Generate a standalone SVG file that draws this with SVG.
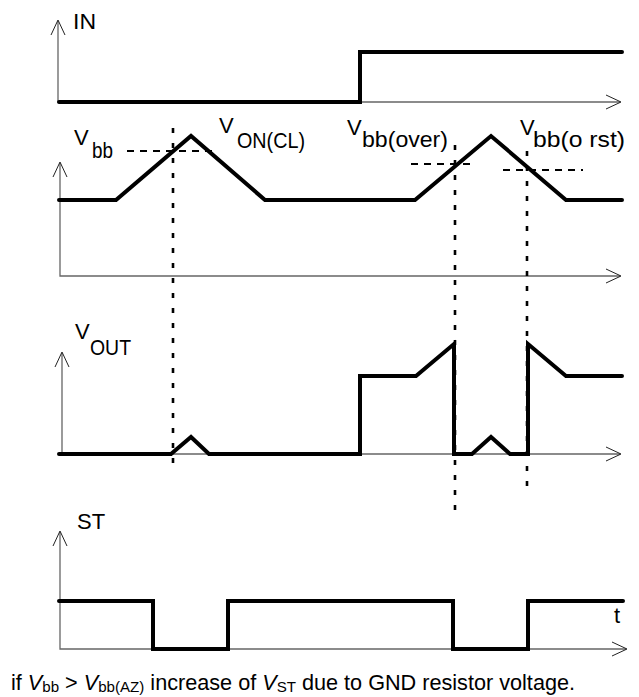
<svg xmlns="http://www.w3.org/2000/svg" width="639" height="697" viewBox="0 0 639 697">
<style>
.ax{fill:none;stroke:#666;stroke-width:1.3}
.ah{fill:none;stroke:#222;stroke-width:1}
.sig{fill:none;stroke:#000;stroke-width:4;stroke-linejoin:miter;stroke-linecap:round}
.dot{fill:none;stroke:#000;stroke-width:2.6;stroke-dasharray:5 10}
.dash{fill:none;stroke:#000;stroke-width:2;stroke-dasharray:7 6}
text{font-family:"Liberation Sans",Arial,sans-serif;fill:#000}
.lb{font-size:22px}
.cap{font-size:21.5px}
.sub{font-size:15px}
</style>
<rect width="639" height="697" fill="#fff"/>
<g id="axes">
<path class="ax" d="M58,21 V102 H620"/>
<path class="ah" d="M51,35 L58,20 L65,35 M606,95 L621,102 L606,109"/>
<path class="ax" d="M60,163 V276 H620"/>
<path class="ah" d="M53,177 L60,162 L67,177 M606,269 L621,276 L606,283"/>
<path class="ax" d="M62,353 V454 H620"/>
<path class="ah" d="M55,367 L62,352 L69,367 M606,447 L621,454 L606,461"/>
<path class="ax" d="M60,532 V649 H626"/>
<path class="ah" d="M53,546 L60,531 L67,546 M612,642 L627,649 L612,656"/>
</g>
<g id="connectors">
<path class="dot" d="M173,128 V469"/>
<path class="dot" d="M455,145 V515"/>
<path class="dot" d="M527,151 V495"/>
<path class="dash" d="M127,151 H218"/>
<path class="dash" d="M411,164 H476"/>
<path class="dash" d="M503,170 H583"/>
</g>
<g id="IN">
<path class="sig" d="M59,102 H360 V52 H622"/>
<text class="lb" x="73" y="29" textLength="23" lengthAdjust="spacingAndGlyphs">IN</text>
</g>
<g id="Vbb">
<path class="sig" d="M59,200 H116 L191,136 L265,200 H415 L491,136 L566,200 H622"/>
<text class="lb" x="74" y="145">V<tspan x="92" y="158" textLength="21" lengthAdjust="spacingAndGlyphs">bb</tspan></text>
<text class="lb" x="219" y="133">V<tspan x="237" y="148" textLength="68" lengthAdjust="spacingAndGlyphs">ON(CL)</tspan></text>
<text class="lb" x="347" y="135">V<tspan x="362" y="147" textLength="86" lengthAdjust="spacingAndGlyphs">bb(over)</tspan></text>
<text class="lb" x="520" y="135">V<tspan x="533" y="147" textLength="92" lengthAdjust="spacingAndGlyphs">bb(o rst)</tspan></text>
</g>
<g id="VOUT">
<path class="sig" d="M59,454 H171 L191,437 L209,454 H360 V376 H416 L454,344 V454 H472 L491,437 L510,454 H528 V344 L566,376 H622"/>
<text class="lb" x="75" y="339">V<tspan x="90" y="355" textLength="41" lengthAdjust="spacingAndGlyphs">OUT</tspan></text>
</g>
<g id="ST">
<path class="sig" d="M59,601 H153 V649 H228 V601 H453 V649 H528 V601 H623"/>
<text class="lb" x="77" y="529">ST</text>
<text class="lb" x="614" y="623">t</text>
</g>
<g id="caption">
<text class="cap" x="11" y="690" textLength="564" lengthAdjust="spacingAndGlyphs">if <tspan font-style="italic">V</tspan><tspan class="sub" dy="2">bb</tspan><tspan dy="-2"> &gt; </tspan><tspan font-style="italic">V</tspan><tspan class="sub" dy="2">bb(AZ)</tspan><tspan dy="-2"> increase of </tspan><tspan font-style="italic">V</tspan><tspan class="sub" dy="2">ST</tspan><tspan dy="-2"> due to GND resistor voltage.</tspan></text>
</g>
</svg>
